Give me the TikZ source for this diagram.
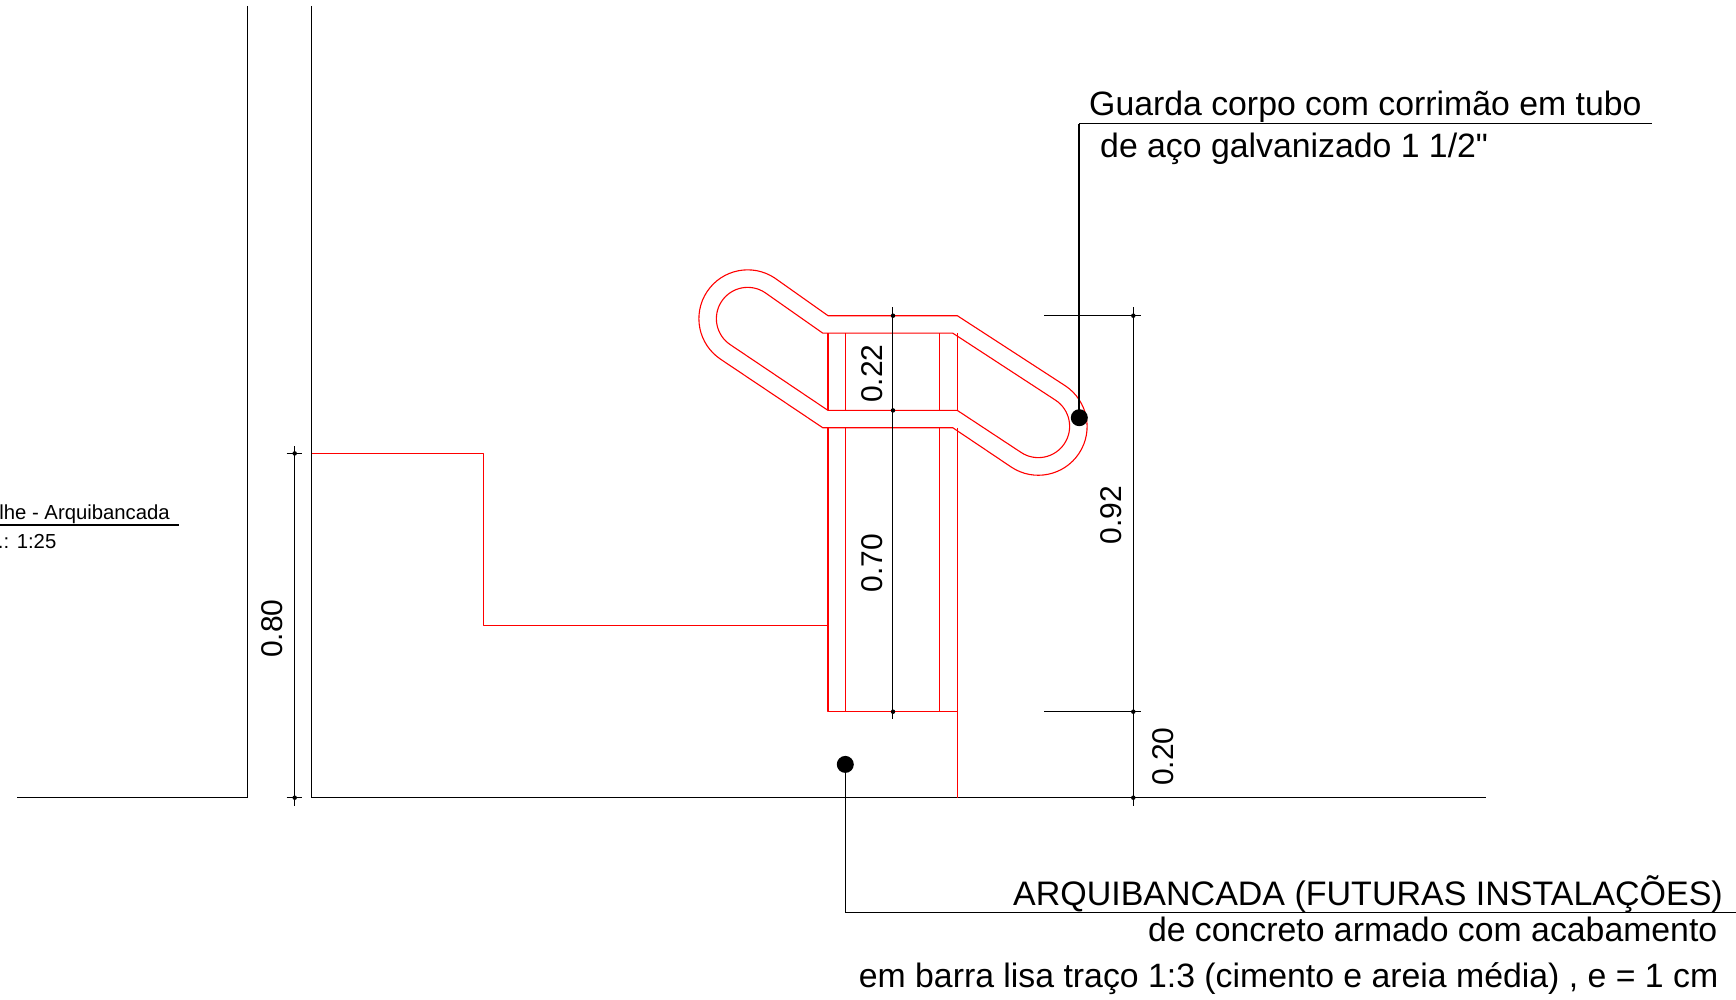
\documentclass[tikz,border=0pt]{standalone}
\usepackage{fontspec}
\newfontfamily\labelfont{Liberation Sans}
\setmainfont{Liberation Sans}
\newcommand{\fsz}[1]{\fontsize{#1}{#1}\selectfont}
\tikzset{
  redline/.style={draw=red,line width=1.1pt,line join=round},
  blk/.style={draw=black,line width=1.1pt},
  thickblk/.style={draw=black,line width=2pt},
  dotnode/.style={circle,fill=black,draw=none,minimum size=17pt,inner sep=0pt},
  dimtext/.style={font=\labelfont\fsz{30},rotate=90,inner sep=0pt,anchor=center},
  note/.style={font=\labelfont\fsz{33.8},inner sep=0pt},
  small/.style={font=\labelfont\fsz{20.3},inner sep=0pt},
  blob/.style={circle,fill=black,draw=none,minimum size=4.5pt,inner sep=0pt},
}
\begin{document}
\begin{tikzpicture}[x=1pt,y=-1pt]
\useasboundingbox (0,0) rectangle (1736,1000);
\begin{scope}[yshift=0.6pt]
% walls and ground
\draw[blk] (247.3,6.6) -- (247.3,798.3) -- (17.3,798.3);
\draw[blk] (311.7,6.6) -- (311.7,798.3) -- (1486,798.3);
% step
\draw[redline] (311.7,454) -- (483.7,454) -- (483.7,626.3) -- (828,626.3);
% post
\draw[redline] (828,333.7) -- (828,411);
\draw[redline] (845.3,333.7) -- (845.3,411);
\draw[redline] (939.7,333.7) -- (939.7,411);
\draw[redline] (957.3,333.7) -- (957.3,411);
\draw[redline] (828,428.3) -- (828,712.3) -- (957.3,712.3);
\draw[redline] (845.3,428.3) -- (845.3,712.3);
\draw[redline] (939.7,428.3) -- (939.7,712.3);
\draw[redline] (957.3,428.3) -- (957.3,798.3);
% handrail outer
\draw[redline] (822.7,428.3) -- (952.7,428.3) -- (1011.3,467.7)
   arc[start angle=123.6,end angle=-56.4,radius=48.8] -- (957.3,316.3) -- (828,316.3) -- (774.7,278.6)
   arc[start angle=-56.4,end angle=-236.4,radius=48.8] -- cycle;
% handrail inner
\draw[redline] (828,411) -- (957.3,411) -- (1021,453)
   arc[start angle=123.6,end angle=-56.4,radius=31.3] -- (952.7,333.7) -- (822.7,333.7) -- (765,293.2)
   arc[start angle=-56.4,end angle=-236.4,radius=31.3] -- cycle;
% dimension 0.80
\draw[blk] (294.7,446.7) -- (294.7,806.7);
\draw[blk] (286.7,454) -- (302,454);
\draw[blk] (286.7,798.3) -- (302,798.3);
\node[blob] (b1) at (294.7,454) {};
\node[blob] (b2) at (294.7,798.3) {};
% dimension 0.22 / 0.70
\draw[blk] (892.3,308) -- (892.3,720);
\node[blob] (b3) at (893,316.3) {};
\node[blob] (b4) at (893,411) {};
\node[blob] (b5) at (893,712.3) {};
% dimension 0.92 / 0.20
\draw[blk] (1133.3,308) -- (1133.3,806.7);
\draw[blk] (1044.3,316.3) -- (1141,316.3);
\draw[blk] (1044.3,712.3) -- (1141,712.3);
\node[blob] (b6) at (1133.3,316.3) {};
\node[blob] (b7) at (1133.3,712.3) {};
\node[blob] (b8) at (1133.3,798.3) {};
% callout 1
\node[dotnode] (dotA) at (1079.3,418.3) {};
\coordinate (cornerA) at (1079.3,124.5);
\coordinate (endA) at (1652,124.5);
\draw[thickblk] (dotA.center) -- (cornerA);
\draw[blk] (cornerA) -- (endA);
% callout 2
\node[dotnode] (dotB) at (845.3,765) {};
\coordinate (cornerB) at (845.3,913.3);
\coordinate (endB) at (1736,913.3);
\draw[blk] (dotB.center) -- (cornerB) -- (endB);
% title rule
\coordinate (tl) at (0,525.7);
\coordinate (tr) at (178.7,525.7);
\draw[thickblk] (tl) -- (tr);
\end{scope}
% dimension texts
\node[dimtext] (d80) at (272.3,628.5) {0.80};
\node[dimtext] (d22) at (871.7,373.8) {0.22};
\node[dimtext] (d70) at (872.3,563) {0.70};
\node[dimtext] (d92) at (1111.4,515) {0.92};
\node[dimtext] (d20) at (1162.7,756.7) {0.20};
% notes
\node[note,anchor=base west] (tA1) at (1089,115.5) {Guarda corpo com corrimão em tubo};
\node[note,anchor=base west] (tA2) at (1100,157.5) {de aço galvanizado 1 1/2"};
\node[note,anchor=base east,font=\labelfont\fsz{34}] (tB1) at (1723,905) {ARQUIBANCADA (FUTURAS INSTALAÇÕES)};
\node[note,anchor=base east] (tB2) at (1717.5,941) {de concreto armado com acabamento};
\node[note,anchor=base east] (tB3) at (1718.5,987) {em barra lisa traço 1:3 (cimento e areia média) , e = 1 cm};
% title
\node[small,anchor=base east] (title) at (170,519) {alhe - Arquibancada};
\node[small,anchor=base east] (scale) at (56.5,548) {.: 1:25};
\end{tikzpicture}
\end{document}
